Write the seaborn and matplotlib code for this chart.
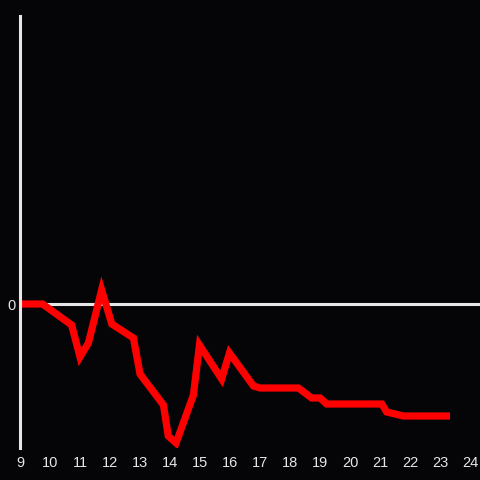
import pandas as pd
import matplotlib.pyplot as plt
import seaborn as sns

# hours of day and the running value
hours = [9.0, 9.75, 10.72, 11.0, 11.28, 11.72, 12.06, 12.78, 13.0, 13.78,
         13.94, 14.2, 14.78, 14.98, 15.72, 15.98, 16.78, 17.0, 18.28, 18.72,
         19.0, 19.22, 21.06, 21.22, 21.78, 23.33]
values = [0, 0, -21, -53, -39, 14, -20, -34, -70, -101,
          -132, -139, -91, -41, -75, -49, -82, -84, -84, -94,
          -94, -100, -100, -108, -112, -112]
xticks = list(range(9, 25))

df = pd.DataFrame({"hour": hours, "value": values})

bg = "#050407"
fg = "#e6e6e6"

sns.set_style("dark")
plt.rcParams["font.family"] = ["Liberation Sans", "DejaVu Sans"]

fig = plt.figure(figsize=(4.8, 4.8), dpi=100, facecolor=bg)
ax = fig.add_axes([20 / 480, 32 / 480, 460 / 480, 432 / 480])
ax.set_facecolor(bg)
ax.grid(False)

ax.axhline(0, color=fg, lw=2.2, zorder=1)
sns.lineplot(data=df, x="hour", y="value", ax=ax, color="#ff0000",
             lw=5.2, zorder=2, solid_joinstyle="miter", solid_capstyle="butt")

ax.set_xlim(9, 24.33)
ax.set_ylim(-144, 288)
ax.set_xticks(xticks)
ax.set_xticklabels([str(t) for t in xticks])
ax.set_yticks([0])
ax.set_yticklabels(["0"])
ax.tick_params(axis="both", length=0, colors=fg, labelsize=10.5)
ax.tick_params(axis="x", pad=6)
ax.tick_params(axis="y", pad=3)
ax.set_xlabel("")
ax.set_ylabel("")

for side in ["top", "right", "bottom"]:
    ax.spines[side].set_visible(False)
ax.spines["left"].set_color(fg)
ax.spines["left"].set_linewidth(2.2)
ax.spines["left"].set_zorder(3)

fig.savefig("out.png", dpi=100, facecolor=bg)
